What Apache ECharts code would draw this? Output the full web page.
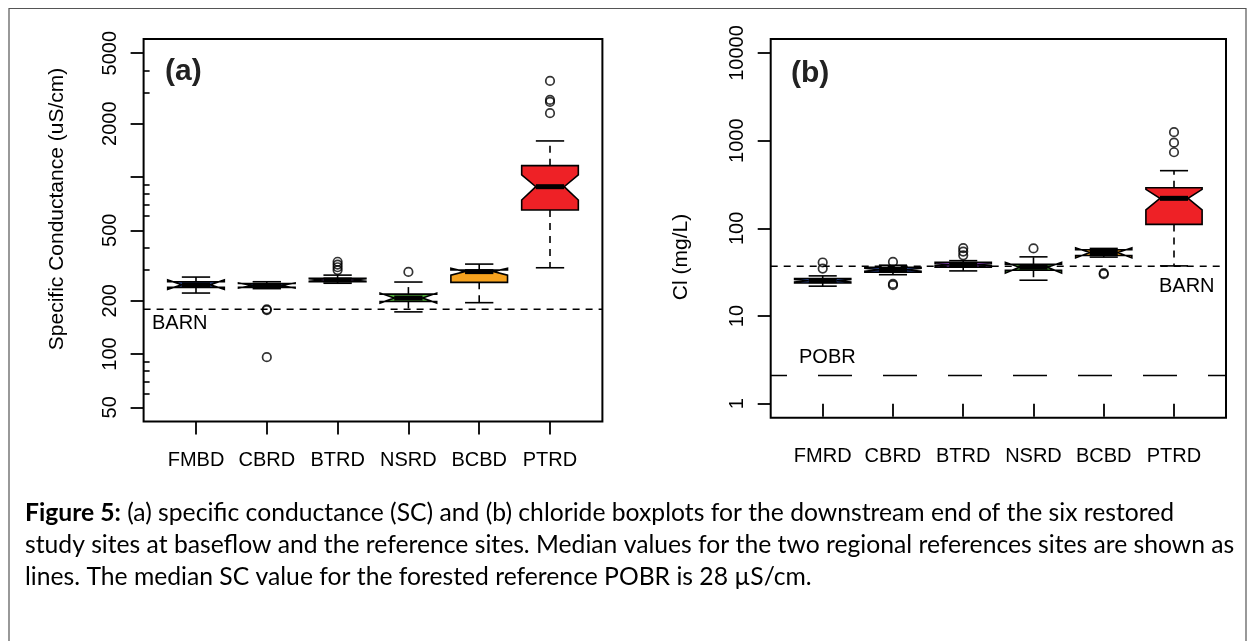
<!DOCTYPE html>
<html><head><meta charset="utf-8">
<script src="https://cdn.jsdelivr.net/npm/echarts@6/dist/echarts.min.js"></script>
<style>html,body{margin:0;padding:0;background:#fff}#c{width:1255px;height:641px}</style>
</head><body><div id="c"></div>
<script>
// ---------- data ----------
const categoriesSC = ['FMBD', 'CBRD', 'BTRD', 'NSRD', 'BCBD', 'PTRD'];
const categoriesCl = ['FMRD', 'CBRD', 'BTRD', 'NSRD', 'BCBD', 'PTRD'];
const boxColors = ['#3a5bb5', '#27408b', '#7b3aa8', '#52b23a', '#f6a21e', '#ee2126'];
// stats per box: [lowWhisker, Q1, median, Q3, highWhisker, notchLow, notchHigh]
const scStats = [
  [221, 238, 246, 256, 272, 232, 262],
  [234, 238, 244, 250, 256, 236, 252],
  [251, 256, 262, 268, 279, 258, 266],
  [173, 198, 207, 218, 255, 194, 221],
  [195, 254, 292, 298, 322, 279, 305],
  [307, 651, 881, 1158, 1597, 741, 1026]
];
const scOutliers = [
  [],
  [179, 177, 96],
  [298, 309, 320, 332],
  [291],
  [],
  [2290, 2654, 2723, 3486]
];
const clStats = [
  [21.9, 23.8, 25.3, 26.8, 28.7, 24.5, 26.1],
  [29.6, 31.6, 33.7, 36.0, 38.0, 32.5, 35.0],
  [32.7, 36.0, 38.5, 41.1, 42.8, 37.5, 39.5],
  [25.6, 33.3, 36.0, 39.0, 47.3, 31.0, 41.0],
  [47.0, 49.0, 53.0, 57.0, 59.0, 46.0, 60.0],
  [37.3, 111, 220, 291, 455, 162, 278]
];
const clOutliers = [
  [34.8, 40.8],
  [41.4, 23.2, 22.5],
  [49.3, 54.3, 59.4],
  [59.0],
  [30.0, 30.8],
  [738, 950, 1250]
];
const scBARN = 179;
const clBARN = 37;
const clPOBR = 2.1;
const scTicksMajor = [50, 100, 200, 500, 1000, 2000, 5000];
const scTickLabels = [50, 100, 200, 500, 2000, 5000];
const scTicksMinor = [60, 70, 80, 90, 300, 400, 600, 700, 800, 900, 3000, 4000];
const clTicks = [1, 10, 100, 1000, 10000];
const scLimits = [50, 5000];
const clLimits = [1, 10000];
const captionLines = [
  ' (a) specific conductance (SC) and (b) chloride boxplots for the downstream end of the six restored',
  'study sites at baseflow and the reference sites. Median values for the two regional references sites are shown as',
  'lines. The median SC value for the forested reference POBR is 28 \u00b5S/cm.'
];

// ---------- helpers ----------
const L = v => Math.log10(v);
const FONT = 'Liberation Sans, Arial, Helvetica, sans-serif';
const CAP = '24.7px Lato';
const XMIN = 0.26, XMAX = 6.74;
function yExtent(lim) {
  const a = L(lim[0]), b = L(lim[1]), e = (b - a) * 0.04;
  return [a - e, b + e];
}
const scExt = yExtent(scLimits), clExt = yExtent(clLimits);

function boxData(stats) {
  return stats.map((s, i) => [i + 1].concat(s.map(L)).concat([i]));
}
function outlierData(outs) {
  const d = [];
  outs.forEach((arr, i) => arr.forEach(v => d.push([i + 1, L(v)])));
  return d;
}
const dashShort = [7, 6];
function renderBox(params, api) {
  const x = api.value(0);
  const lo = api.value(1), q1 = api.value(2), med = api.value(3), q3 = api.value(4),
        hi = api.value(5), nlo = api.value(6), nhi = api.value(7);
  const c = boxColors[api.value(8)];
  const w = 0.4, nf = 0.5, sw = 0.2;
  const P = (xx, yy) => api.coord([xx, yy]);
  const poly = [P(x - w, q1), P(x + w, q1), P(x + w, nlo), P(x + w * nf, med), P(x + w, nhi),
                P(x + w, q3), P(x - w, q3), P(x - w, nhi), P(x - w * nf, med), P(x - w, nlo)];
  const line = (a, b, dash, lw) => ({
    type: 'line',
    shape: { x1: a[0], y1: a[1], x2: b[0], y2: b[1] },
    style: { stroke: '#000', lineWidth: lw || 1.6, lineDash: dash || null }
  });
  return {
    type: 'group',
    children: [
      { type: 'polygon', shape: { points: poly }, style: { fill: c, stroke: '#000', lineWidth: 1.6, lineJoin: 'miter' } },
      line(P(x - w * nf, med), P(x + w * nf, med), null, 5),
      line(P(x, q3), P(x, hi), dashShort),
      line(P(x, q1), P(x, lo), dashShort),
      line(P(x - sw, hi), P(x + sw, hi)),
      line(P(x - sw, lo), P(x + sw, lo))
    ]
  };
}
function xAxisCfg(grid, cats) {
  return {
    type: 'value', gridIndex: grid, min: XMIN, max: XMAX,
    axisLine: { show: false },
    splitLine: { show: false },
    axisTick: { show: true, customValues: [1, 2, 3, 4, 5, 6], length: 13, lineStyle: { color: '#000', width: 1.8 } },
    axisLabel: { customValues: [1, 2, 3, 4, 5, 6], formatter: v => cats[Math.round(v) - 1], fontSize: 20, color: '#000', fontFamily: FONT, margin: 29 }
  };
}
function fmt(v) { return String(Math.round(Math.pow(10, v))); }

const option = {
  animation: false,
  backgroundColor: '#fff',
  grid: [
    { left: 143.6, top: 39, width: 458.8, height: 382.5, show: true, borderColor: '#000', borderWidth: 2, outerBoundsMode: 'none' },
    { left: 770.7, top: 39, width: 455.3, height: 378.7, show: true, borderColor: '#000', borderWidth: 2, outerBoundsMode: 'none' }
  ],
  xAxis: [xAxisCfg(0, categoriesSC), xAxisCfg(1, categoriesCl)],
  yAxis: [
    {
      type: 'value', gridIndex: 0, position: 'left', min: scExt[0], max: scExt[1],
      axisLine: { show: false }, splitLine: { show: false },
      axisTick: { show: true, customValues: scTicksMajor.map(L), length: 13, lineStyle: { color: '#000', width: 1.8 } },
      axisLabel: { customValues: scTickLabels.map(L), formatter: fmt, rotate: 90, fontSize: 20, color: '#000', fontFamily: FONT, margin: 23 }
    },
    {
      type: 'value', gridIndex: 0, position: 'left', min: scExt[0], max: scExt[1],
      axisLine: { show: false }, splitLine: { show: false }, axisLabel: { show: false },
      axisTick: { show: true, inside: true, customValues: scTicksMinor.map(L), length: 6, lineStyle: { color: '#000', width: 1.6 } }
    },
    {
      type: 'value', gridIndex: 1, position: 'left', min: clExt[0], max: clExt[1],
      axisLine: { show: false }, splitLine: { show: false },
      axisTick: { show: true, customValues: clTicks.map(L), length: 13, lineStyle: { color: '#000', width: 1.8 } },
      axisLabel: { customValues: clTicks.map(L), formatter: fmt, rotate: 90, fontSize: 20, color: '#000', fontFamily: FONT, margin: 23 }
    }
  ],
  series: [
    { type: 'custom', xAxisIndex: 0, yAxisIndex: 0, renderItem: renderBox, data: boxData(scStats), silent: true, z: 2 },
    { type: 'custom', xAxisIndex: 1, yAxisIndex: 2, renderItem: renderBox, data: boxData(clStats), silent: true, z: 2 },
    { type: 'scatter', xAxisIndex: 0, yAxisIndex: 0, data: outlierData(scOutliers), symbol: 'circle', symbolSize: 8.5,
      itemStyle: { color: 'rgba(0,0,0,0)', borderColor: '#000', borderWidth: 1.7 }, silent: true, z: 3 },
    { type: 'scatter', xAxisIndex: 1, yAxisIndex: 2, data: outlierData(clOutliers), symbol: 'circle', symbolSize: 8.5,
      itemStyle: { color: 'rgba(0,0,0,0)', borderColor: '#000', borderWidth: 1.7 }, silent: true, z: 3 },
    { type: 'line', xAxisIndex: 0, yAxisIndex: 0, data: [[XMIN, L(scBARN)], [XMAX, L(scBARN)]], showSymbol: false, silent: true, z: 4,
      lineStyle: { color: '#000', width: 1.6, type: dashShort } },
    { type: 'line', xAxisIndex: 1, yAxisIndex: 2, data: [[XMIN, L(clBARN)], [XMAX, L(clBARN)]], showSymbol: false, silent: true, z: 4,
      lineStyle: { color: '#000', width: 1.6, type: dashShort } },
    { type: 'line', xAxisIndex: 1, yAxisIndex: 2, data: [[XMIN, L(clPOBR)], [XMAX, L(clPOBR)]], showSymbol: false, silent: true, z: 4,
      lineStyle: { color: '#000', width: 1.6, type: [34, 31], dashOffset: 17.7 } }
  ],
  graphic: [
    { type: 'rect', shape: { x: 9, y: 8.5, width: 1237, height: 700 }, style: { fill: null, stroke: '#555', lineWidth: 1.2 }, silent: true },
    { type: 'text', x: 165, y: 72, style: { text: '(a)', font: 'bold 30px ' + FONT, fill: '#222', textVerticalAlign: 'middle' } },
    { type: 'text', x: 791, y: 74, style: { text: '(b)', font: 'bold 30px ' + FONT, fill: '#222', textVerticalAlign: 'middle' } },
    { type: 'text', x: 57, y: 209, rotation: Math.PI / 2, style: { text: 'Specific Conductance (uS/cm)', font: '21px ' + FONT, fill: '#000', textAlign: 'center', textVerticalAlign: 'middle' } },
    { type: 'text', x: 681, y: 257, rotation: Math.PI / 2, style: { text: 'Cl (mg/L)', font: '21px ' + FONT, fill: '#000', textAlign: 'center', textVerticalAlign: 'middle' } },
    { type: 'text', x: 152, y: 323, style: { text: 'BARN', font: '20px ' + FONT, fill: '#000', textVerticalAlign: 'middle' } },
    { type: 'text', x: 1159, y: 286, style: { text: 'BARN', font: '20px ' + FONT, fill: '#000', textVerticalAlign: 'middle' } },
    { type: 'text', x: 799, y: 357, style: { text: 'POBR', font: '20px ' + FONT, fill: '#000', textVerticalAlign: 'middle' } },
    { type: 'text', x: 25, y: 513, style: { text: '{b|Figure 5:}' + captionLines[0], font: CAP, fill: '#000', textVerticalAlign: 'middle',
        rich: { b: { fontWeight: 'bold', fontSize: 24.7, fontFamily: 'Lato' } } } },
    { type: 'text', x: 25, y: 545, style: { text: captionLines[1], font: CAP, fill: '#000', textVerticalAlign: 'middle' } },
    { type: 'text', x: 25, y: 577, style: { text: captionLines[2], font: CAP, fill: '#000', textVerticalAlign: 'middle' } }
  ]
};
const chart = echarts.init(document.getElementById('c'), null, { renderer: 'canvas' });
chart.setOption(option);
</script>
</body></html>
